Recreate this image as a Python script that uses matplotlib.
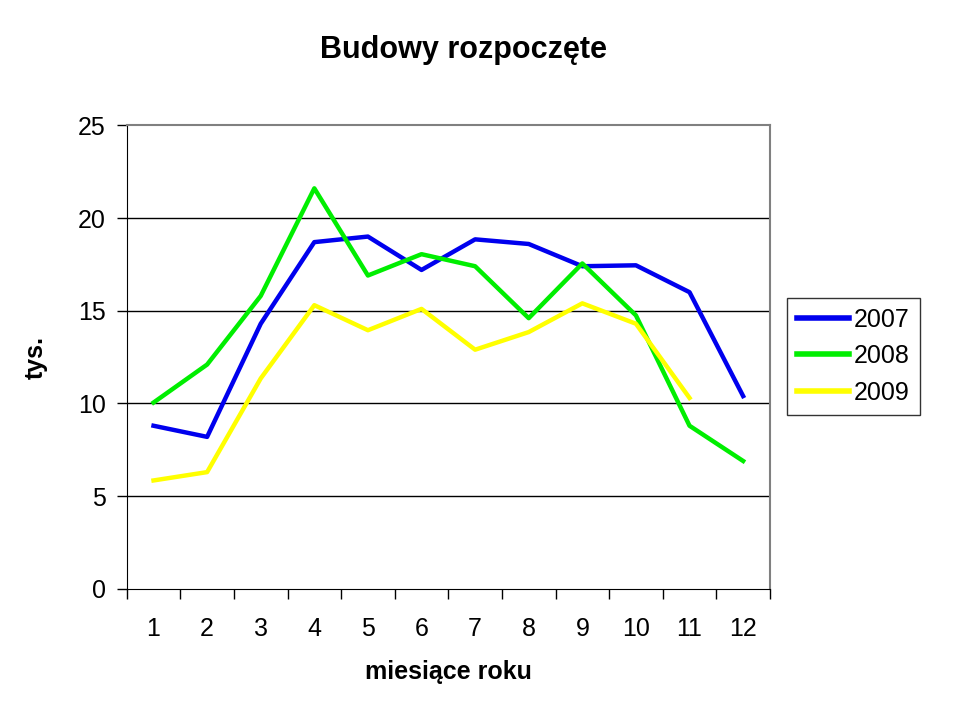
import matplotlib.pyplot as plt
import numpy as np

plt.rcParams['font.family'] = ['Liberation Sans', 'DejaVu Sans']

months = list(range(1, 13))
y2007 = [8.8, 8.2, 14.3, 18.7, 19.0, 17.2, 18.85, 18.6, 17.4, 17.45, 16.0, 10.4]
y2008 = [10.05, 12.1, 15.8, 21.6, 16.9, 18.05, 17.4, 14.6, 17.55, 14.75, 8.8, 6.9]
y2009 = [5.85, 6.3, 11.35, 15.3, 13.95, 15.1, 12.9, 13.85, 15.4, 14.3, 10.3]

fig = plt.figure(figsize=(9.6, 7.2), dpi=100)
ax = fig.add_axes([0.132, 0.182, 0.670, 0.644])

ax.plot(months, y2007, color='#0000ee', lw=3.2, label='2007')
ax.plot(months, y2008, color='#00ee00', lw=3.2, label='2008')
ax.plot(months[:len(y2009)], y2009, color='#ffff00', lw=3.2, label='2009')

ax.set_xlim(0.5, 12.5)
ax.set_ylim(0, 25)
ax.set_yticks(range(0, 26, 5))
for v in range(5, 25, 5):
    ax.axhline(v, color='black', lw=1, zorder=0)

# category-style x axis: ticks between categories, labels at centres
ax.set_xticks(np.arange(0.5, 13, 1))
ax.set_xticklabels([])
ax.set_xticks(months, minor=True)
ax.set_xticklabels([str(m) for m in months], minor=True)
ax.tick_params(axis='x', which='major', direction='out', length=7, width=1)
ax.tick_params(axis='x', which='minor', length=0, pad=20, labelsize=18)
ax.tick_params(axis='y', direction='out', length=7, width=1, labelsize=18, pad=8)

for s in ['top', 'right']:
    ax.spines[s].set_color('#808080')
    ax.spines[s].set_linewidth(1.5)
for s in ['left', 'bottom']:
    ax.spines[s].set_color('black')

ax.set_xlabel('miesiące roku', fontsize=18, fontweight='bold', labelpad=14)
ax.set_ylabel('tys.', fontsize=18, fontweight='bold', labelpad=22)
fig.text(0.483, 0.930, 'Budowy rozpoczęte', ha='center', va='center',
         fontsize=22, fontweight='bold')

leg = ax.legend(loc='center left', bbox_to_anchor=(1.026, 0.502), fontsize=18,
                frameon=True, fancybox=False, edgecolor='black',
                handlelength=2.1, handletextpad=0.2, borderpad=0.4,
                labelspacing=0.5, borderaxespad=0)
leg.get_frame().set_linewidth(1)
for line in leg.get_lines():
    line.set_linewidth(4)

fig.savefig('out.png', dpi=100)
